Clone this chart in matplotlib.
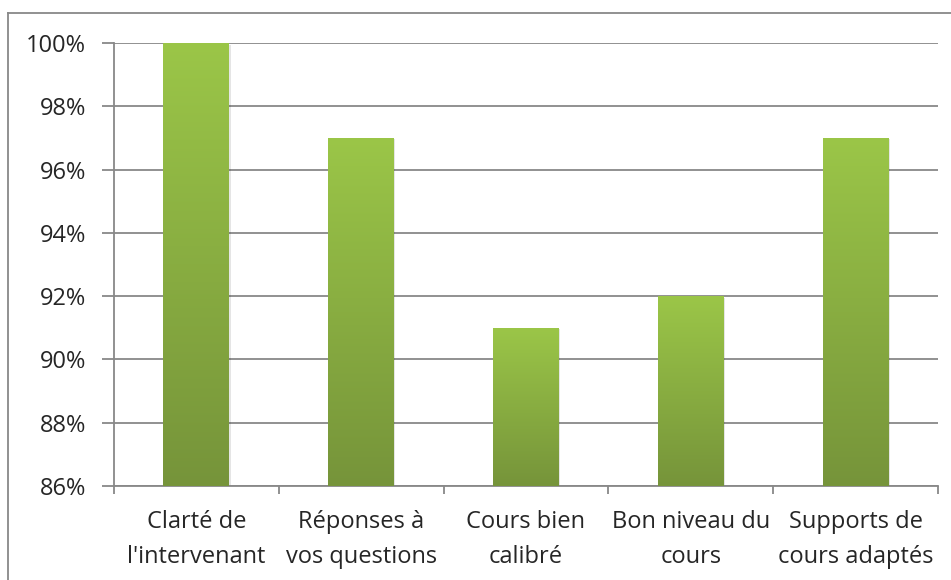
import matplotlib.pyplot as plt
import matplotlib.ticker as mticker
from matplotlib.colors import LinearSegmentedColormap
from matplotlib.lines import Line2D
import numpy as np

categories = ["Clarté de\nl'intervenant", "Réponses à\nvos questions", "Cours bien\ncalibré",
              "Bon niveau du\ncours", "Supports de\ncours adaptés"]
values = [100, 97, 91, 92, 97]
yticks = [86, 88, 90, 92, 94, 96, 98, 100]

plt.rcParams['font.family'] = ['Open Sans', 'DejaVu Sans']

fig = plt.figure(figsize=(9.51, 5.80), dpi=100)
ax = fig.add_axes([0.1199, 0.1621, 0.8664, 0.7638])

x = np.arange(len(categories))
bars = ax.bar(x, values, width=0.4, color='none', zorder=3)

grad = LinearSegmentedColormap.from_list("g", ["#76943a", "#9bc648"])
img = np.linspace(0, 1, 256).reshape(-1, 1)
for b in bars:
    x0, w, h = b.get_x(), b.get_width(), b.get_height()
    # soft shadow
    ax.add_patch(plt.Rectangle((x0 + 0.008, 86), w, h - 86 - 0.05, color='#000000',
                               alpha=0.10, zorder=2, lw=0))
    im = ax.imshow(img, cmap=grad, aspect='auto', origin='lower',
                   extent=[x0, x0 + w, 86, h], zorder=3)
    im.set_clip_path(b)
ax.set_xlim(-0.5, len(categories) - 0.5)
ax.set_ylim(86, 100)

ax.set_yticks(yticks)
ax.yaxis.set_major_formatter(mticker.FuncFormatter(lambda v, p: f"{v:.0f}%"))
ax.yaxis.grid(True, color='#888888', lw=1.3, zorder=0)
ax.set_axisbelow(True)

ax.set_xticks(x)
ax.set_xticklabels(categories, fontsize=17, color='#262626', linespacing=1.65)
ax.set_xticks(np.arange(-0.5, len(categories)), minor=True)
ax.tick_params(axis='x', which='major', length=0, pad=17)
ax.tick_params(axis='x', which='minor', length=6, width=1.3, color='#888888')
ax.tick_params(axis='y', length=9, width=1.3, color='#888888', labelsize=17,
               labelcolor='#262626', pad=11)

for s in ['top', 'right']:
    ax.spines[s].set_visible(False)
for s in ['left', 'bottom']:
    ax.spines[s].set_color('#888888')
    ax.spines[s].set_linewidth(1.3)

# outer chart border (top and left visible)
fig.add_artist(Line2D([0.0084, 1.0], [0.9776, 0.9776], color='#888888', lw=1.3))
fig.add_artist(Line2D([0.0084, 0.0084], [0.0, 0.9776], color='#888888', lw=1.3))

fig.savefig("out.png", dpi=100)
